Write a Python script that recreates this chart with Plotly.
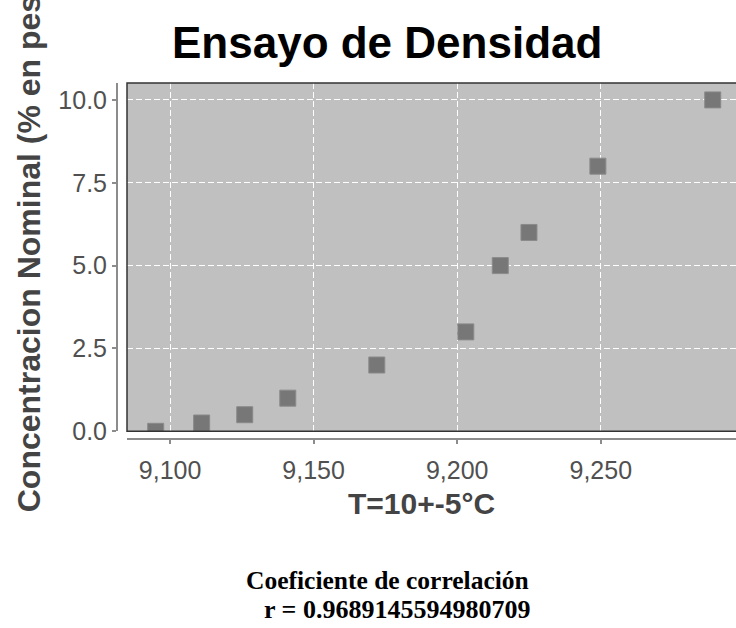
import plotly.graph_objects as go

# Data
temperatura = [9095, 9111, 9126, 9141, 9172, 9203, 9215, 9225, 9249, 9289]
concentracion = [0, 0.25, 0.5, 1, 2, 3, 5, 6, 8, 10]
x_ticks = [9100, 9150, 9200, 9250]
x_ticklabels = ["9,100", "9,150", "9,200", "9,250"]
y_ticks = [0, 2.5, 5, 7.5, 10]
y_ticklabels = ["0.0", "2.5", "5.0", "7.5", "10.0"]
titulo = "Ensayo de Densidad"
x_titulo = "T=10+-5°C"
y_titulo = "Concentracion Nominal (% en peso)"
nota1 = "Coeficiente de correlación"
nota2 = "r = 0.9689145594980709"

W, H = 736, 628
L, R, T, B = 117, 0, 82.5, 628 - 438.7
pw = W - L - R
ph = H - T - B

def px(xp):
    return (xp - L) / pw

def py(yp):
    return (H - B - yp) / ph

xdom0 = px(127)
ydom0 = py(431)

fig = go.Figure()
fig.add_trace(go.Scatter(
    x=temperatura, y=concentracion, mode="markers",
    marker=dict(symbol="square", size=16, color="#777777",
                line=dict(color="#8a8a8a", width=1)),
    showlegend=False,
))

sans = "Liberation Sans, Arial, sans-serif"
serif = "Liberation Serif, Times New Roman, serif"

fig.update_layout(
    width=W, height=H,
    margin=dict(l=L, r=R, t=T, b=B, pad=0),
    paper_bgcolor="white",
    plot_bgcolor="#c0c0c0",
    font=dict(family=sans),
    xaxis=dict(
        domain=[xdom0, 1], anchor="free", position=0,
        range=[9085.0, 9297.1],
        tickvals=x_ticks, ticktext=x_ticklabels,
        ticks="outside", ticklen=4, tickwidth=1.5, tickcolor="#8c8c8c",
        showline=True, linecolor="#8c8c8c", linewidth=2,
        showgrid=True, gridcolor="white", gridwidth=1, griddash="6px,3px",
        zeroline=False,
        tickfont=dict(size=25, color="#505050", family=sans),
        ticklabelstandoff=5,
    ),
    yaxis=dict(
        domain=[ydom0, 1], anchor="free", position=0,
        range=[0, 10.51],
        tickvals=y_ticks, ticktext=y_ticklabels,
        ticks="outside", ticklen=4, tickwidth=1.5, tickcolor="#8c8c8c",
        showline=True, linecolor="#8c8c8c", linewidth=2,
        showgrid=True, gridcolor="white", gridwidth=1, griddash="6px,3px",
        zeroline=False,
        tickfont=dict(size=25, color="#505050", family=sans),
    ),
    shapes=[dict(
        type="rect", xref="paper", yref="paper",
        x0=xdom0, x1=1.05, y0=ydom0, y1=1,
        line=dict(color="#333333", width=1.5), fillcolor="rgba(0,0,0,0)",
        layer="above",
    )],
    annotations=[
        dict(text="<b>" + titulo + "</b>", xref="paper", yref="paper",
             x=px(386.5), y=py(41.5), xanchor="center", yanchor="middle",
             showarrow=False, font=dict(size=44, color="black", family=sans)),
        dict(text="<b>" + x_titulo + "</b>", xref="paper", yref="paper",
             x=px(421), y=py(503), xanchor="center", yanchor="middle",
             showarrow=False, font=dict(size=30, color="#444444", family=sans)),
        dict(text="<b>" + y_titulo + "</b>", xref="paper", yref="paper",
             x=px(29), y=py(514), xanchor="center", yanchor="bottom",
             textangle=-90,
             showarrow=False, font=dict(size=32, color="#444444", family=sans)),
        dict(text="<b>" + nota1 + "</b>", xref="paper", yref="paper",
             x=px(387.5), y=py(580), xanchor="center", yanchor="middle",
             showarrow=False, font=dict(size=25.5, color="black", family=serif)),
        dict(text="<b>" + nota2 + "</b>", xref="paper", yref="paper",
             x=px(397), y=py(609), xanchor="center", yanchor="middle",
             showarrow=False, font=dict(size=26, color="black", family=serif)),
    ],
)

fig.write_html("out.html")
